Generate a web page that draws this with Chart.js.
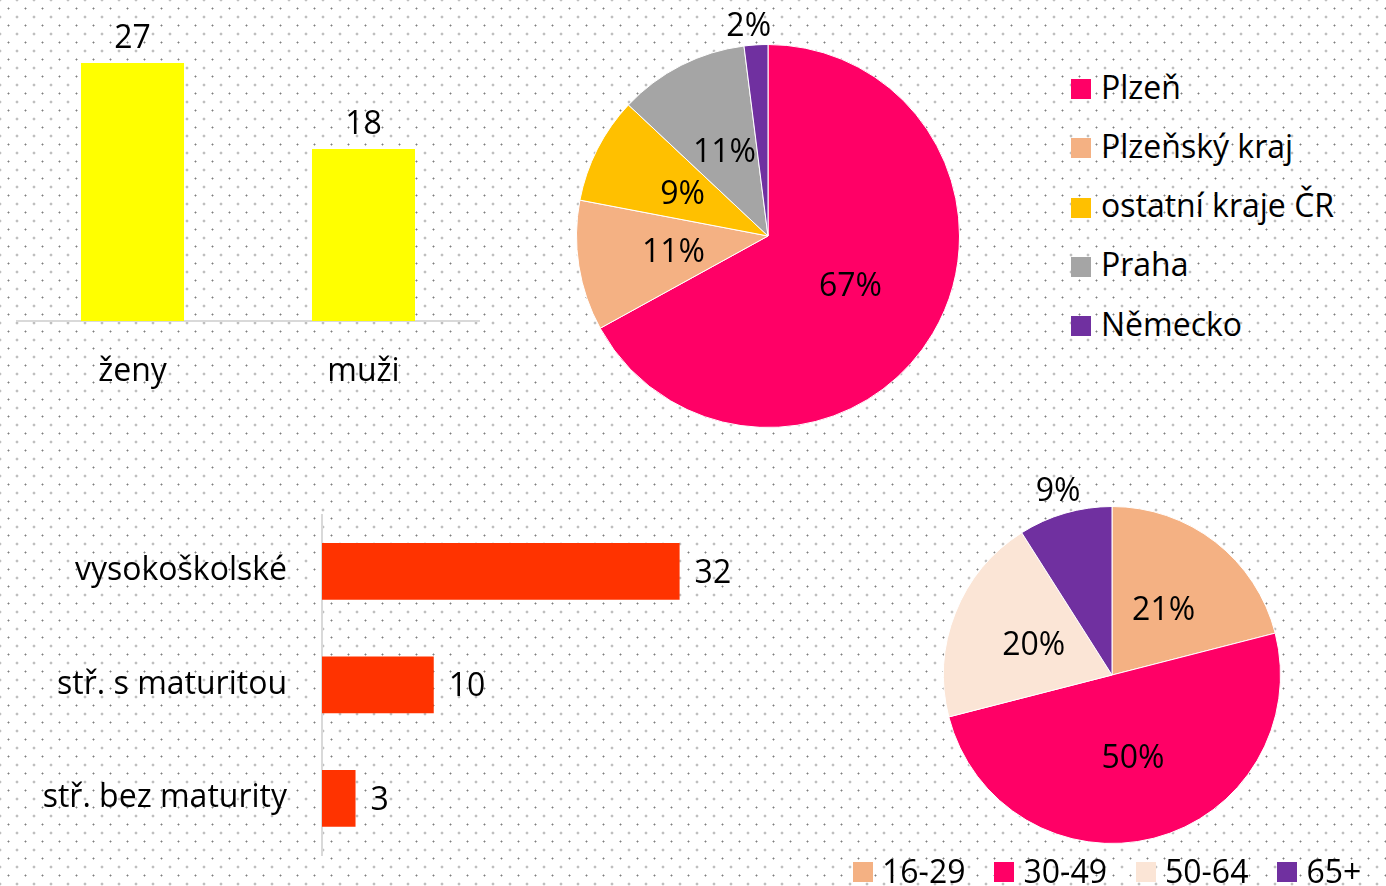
<!DOCTYPE html>
<html><head><meta charset="utf-8">
<script src="https://cdn.jsdelivr.net/npm/chart.js@4.4.0/dist/chart.umd.min.js"></script>
<style>
html,body{margin:0;padding:0;width:1386px;height:886px;overflow:hidden;}
body{position:relative;background-color:#fff;font-family:"Open Sans",sans-serif;
background-image:radial-gradient(circle, rgba(120,120,120,0.95) 0.7px, rgba(120,120,120,0) 1.3px),radial-gradient(circle, rgba(120,120,120,0.95) 0.7px, rgba(120,120,120,0) 1.3px);
background-size:17px 17px;background-position:0 0,8.5px 8.5px;}
canvas{position:absolute;display:block;}
.leg{position:absolute;}
.sq{position:absolute;width:20px;height:20px;}
.tx{position:absolute;font-size:32px;line-height:32px;white-space:nowrap;color:#000;}
</style></head>
<body>
<canvas id="c1" width="496" height="420" style="left:0;top:0"></canvas>
<canvas id="c2" width="416" height="472" style="left:560px;top:0"></canvas>
<canvas id="c3" width="800" height="396" style="left:0;top:490px"></canvas>
<canvas id="c4" width="424" height="390" style="left:900px;top:470px"></canvas>
<div id="leg1" class="leg" style="left:1071px;top:70.5px"></div>
<div id="leg2" class="leg" style="left:853px;top:854.5px;display:flex;"></div>
<script>
// ---- data ----
const genderLabels = ['ženy', 'muži'];
const genderValues = [27, 18];

const originLabels = ['Plzeň', 'Plzeňský kraj', 'ostatní kraje ČR', 'Praha', 'Německo'];
const originPercent = [67, 11, 9, 11, 2];

const educationLabels = ['vysokoškolské', 'stř. s maturitou', 'stř. bez maturity'];
const educationValues = [32, 10, 3];

const ageLabels = ['16-29', '30-49', '50-64', '65+'];
const agePercent = [21, 50, 20, 9];

// ---- styles ----
const originColors = ['#FF0066', '#F4B183', '#FFC000', '#A5A5A5', '#7030A0'];
const ageColors = ['#F4B183', '#FF0066', '#FBE5D6', '#7030A0'];
const FONT = '"Open Sans"';
const FS = 32;

const valueLabelPlugin = {
  id: 'valueLabels',
  afterDatasetsDraw(chart, args, opts) {
    if (!opts || !opts.mode) return;
    const ctx = chart.ctx;
    const meta = chart.getDatasetMeta(0);
    const ds = chart.data.datasets[0];
    const capHalf = FS * 0.357;
    ctx.save();
    ctx.font = FS + 'px ' + FONT;
    ctx.fillStyle = '#000';
    ctx.textBaseline = 'alphabetic';
    meta.data.forEach((el, i) => {
      const text = String(ds.data[i]) + (opts.suffix || '');
      if (opts.mode === 'top') {
        ctx.textAlign = 'center';
        ctx.fillText(text, el.x, el.y - opts.offset);
      } else if (opts.mode === 'right') {
        ctx.textAlign = 'left';
        ctx.fillText(text, el.x + opts.offset, el.y + capHalf);
      } else if (opts.mode === 'arc') {
        const p = el.getProps(['x', 'y', 'startAngle', 'endAngle', 'outerRadius'], true);
        const mid = (p.startAngle + p.endAngle) / 2;
        const out = i === opts.outsideIndex;
        const r = out ? p.outerRadius + opts.outsideOffset : p.outerRadius * opts.insideRatio;
        ctx.textAlign = 'center';
        ctx.fillText(text, p.x + Math.cos(mid) * r + (out ? (opts.outsideShiftX || 0) : 0), p.y + Math.sin(mid) * r + capHalf);
      }
    });
    ctx.restore();
  }
};

function buildLegend(chart, id, vertical) {
  const c = document.getElementById(id);
  const labels = chart.data.labels;
  const colors = chart.data.datasets[0].backgroundColor;
  labels.forEach((lab, i) => {
    const item = document.createElement('div');
    const sq = document.createElement('span');
    sq.className = 'sq';
    sq.style.background = colors[i];
    const tx = document.createElement('span');
    tx.className = 'tx';
    tx.textContent = lab;
    if (vertical) {
      item.style.cssText = 'position:absolute;left:0;top:' + (i * 59.25) + 'px;';
      sq.style.left = '0px'; sq.style.top = '8.5px';
      tx.style.left = '30px'; tx.style.top = '0px';
    } else {
      item.style.cssText = 'position:relative;display:flex;margin-right:' + (i < labels.length - 1 ? 29 : 0) + 'px;';
      sq.style.position = 'relative'; sq.style.marginTop = '7.5px'; sq.style.flex = '0 0 20px';
      tx.style.position = 'relative'; tx.style.marginLeft = '9px';
    }
    item.appendChild(sq); item.appendChild(tx);
    c.appendChild(item);
  });
}

function draw() {
  Chart.register(valueLabelPlugin);
  Chart.defaults.font.family = FONT;
  Chart.defaults.font.size = FS;
  Chart.defaults.color = '#000';

  new Chart(document.getElementById('c1'), {
    type: 'bar',
    data: { labels: genderLabels, datasets: [{ data: genderValues, backgroundColor: '#FFFF00', barPercentage: 1, categoryPercentage: 0.446 }] },
    options: {
      responsive: false, animation: false,
      layout: { padding: { left: 17, right: 17, top: 34.3, bottom: 0 } },
      plugins: { legend: { display: false }, tooltip: { enabled: false }, valueLabels: { mode: 'top', offset: 15 } },
      scales: {
        x: { grid: { display: false, drawTicks: false }, border: { display: true, color: '#D9D9D9', width: 2 },
             ticks: { color: '#000', font: { family: FONT, size: FS }, padding: 32 },
             afterFit(s) { s.height = 99; s.paddingLeft = 0; s.paddingRight = 0; } },
        y: { display: false, min: 0, max: 30 }
      }
    }
  });

  const pie1 = new Chart(document.getElementById('c2'), {
    type: 'pie',
    data: { labels: originLabels, datasets: [{ data: originPercent, backgroundColor: originColors, borderColor: '#ffffff', borderWidth: 1 }] },
    options: {
      responsive: false, animation: false,
      layout: { padding: { left: 16, right: 16, top: 44, bottom: 44 } },
      plugins: { legend: { display: false }, tooltip: { enabled: false },
        valueLabels: { mode: 'arc', suffix: '%', insideRatio: 0.5, outsideIndex: 4, outsideOffset: 20, outsideShiftX: -6 } }
    }
  });
  buildLegend(pie1, 'leg1', true);

  new Chart(document.getElementById('c3'), {
    type: 'bar',
    data: { labels: educationLabels, datasets: [{ data: educationValues, backgroundColor: '#FF3300', barPercentage: 1, categoryPercentage: 0.5 }] },
    options: {
      indexAxis: 'y', responsive: false, animation: false,
      layout: { padding: { left: 0, right: 31, top: 24.5, bottom: 31 } },
      plugins: { legend: { display: false }, tooltip: { enabled: false }, valueLabels: { mode: 'right', offset: 15 } },
      scales: {
        x: { display: false, min: 0, max: 40 },
        y: { grid: { display: false, drawTicks: false }, border: { display: true, color: '#D9D9D9', width: 2 },
             ticks: { color: '#000', font: { family: FONT, size: FS }, padding: 35 },
             afterFit(s) { s.width = 322; s.paddingTop = 0; s.paddingBottom = 0; } }
      }
    }
  });

  const pie2 = new Chart(document.getElementById('c4'), {
    type: 'pie',
    data: { labels: ageLabels, datasets: [{ data: agePercent, backgroundColor: ageColors, borderColor: '#ffffff', borderWidth: 1 }] },
    options: {
      responsive: false, animation: false,
      layout: { padding: { left: 43, right: 43, top: 36, bottom: 16 } },
      plugins: { legend: { display: false }, tooltip: { enabled: false },
        valueLabels: { mode: 'arc', suffix: '%', insideRatio: 0.5, outsideIndex: 3, outsideOffset: 25 } }
    }
  });
  buildLegend(pie2, 'leg2', false);
}

if (document.fonts && document.fonts.load) {
  document.fonts.load(FS + 'px ' + FONT).then(draw, draw);
} else { draw(); }
</script>
</body></html>
